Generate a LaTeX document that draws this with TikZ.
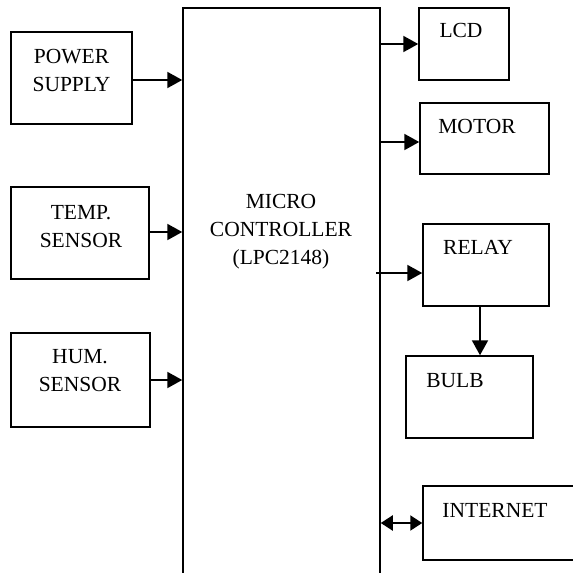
\documentclass[tikz,border=0pt]{standalone}
\usepackage{fontspec}
\setmainfont{Liberation Serif}
\usetikzlibrary{arrows.meta}
\begin{document}
\begin{tikzpicture}[x=1pt,y=-1pt,
  every node/.style={font=\fontsize{21.5}{28}\selectfont},
  blk/.style={draw,line width=1.5pt,inner sep=0pt},
  txt/.style={anchor=base,align=center,inner sep=0pt},
  arr/.style={line width=2pt,-{Triangle[length=15pt,width=16pt]}}]
\useasboundingbox (0,0) rectangle (573,573);
\clip (0,0) rectangle (573,573);
% blocks
\node[blk,minimum width=121,minimum height=92] (ps) at (71.5,78) {};
\node[blk,minimum width=138,minimum height=92] (temp) at (80,233) {};
\node[blk,minimum width=139,minimum height=94] (hum) at (80.5,380) {};
\node[blk,minimum width=197,minimum height=600] (mcu) at (281.5,308) {};
\node[blk,minimum width=90,minimum height=72] (lcd) at (464,44) {};
\node[blk,minimum width=129,minimum height=71] (motor) at (484.5,138.5) {};
\node[blk,minimum width=126,minimum height=82] (relay) at (486,265) {};
\node[blk,minimum width=127,minimum height=82] (bulb) at (469.5,397) {};
\node[blk,minimum width=177,minimum height=74] (net) at (511.5,523) {};
% texts (base = last line)
\node[txt] (pstxt) at (71.5,91) {POWER\\SUPPLY};
\node[txt] (temptxt) at (81,247) {TEMP.\\SENSOR};
\node[txt] (humtxt) at (80,391) {HUM.\\SENSOR};
\node[txt] (mcutxt) at (281,264) {MICRO\\CONTROLLER\\(LPC2148)};
\node[txt] (lcdtxt) at (461,37) {LCD};
\node[txt] (motortxt) at (477,133) {MOTOR};
\node[txt] (relaytxt) at (478,254) {RELAY};
\node[txt] (bulbtxt) at (455,387) {BULB};
\node[txt] (nettxt) at (495,517) {INTERNET};
% connectors
\coordinate (relayin) at (376,273);
\draw[arr] (ps.east |- 0,80) -- (mcu.west |- 0,80);
\draw[arr] (temp.east |- 0,232) -- (mcu.west |- 0,232);
\draw[arr] (hum.east) -- (mcu.west |- hum.east);
\draw[arr] (mcu.east |- lcd.west) -- (lcd.west);
\draw[arr] (mcu.east |- 0,142) -- (motor.west |- 0,142);
\draw[arr] (relayin) -- (relay.west |- relayin);
\draw[arr] (relay.south -| 480,0) -- (bulb.north -| 480,0);
\draw[line width=2pt,{Triangle[length=12pt,width=15pt]}-{Triangle[length=12pt,width=15pt]}] (mcu.east |- net.west) -- (net.west);
\end{tikzpicture}
\end{document}
